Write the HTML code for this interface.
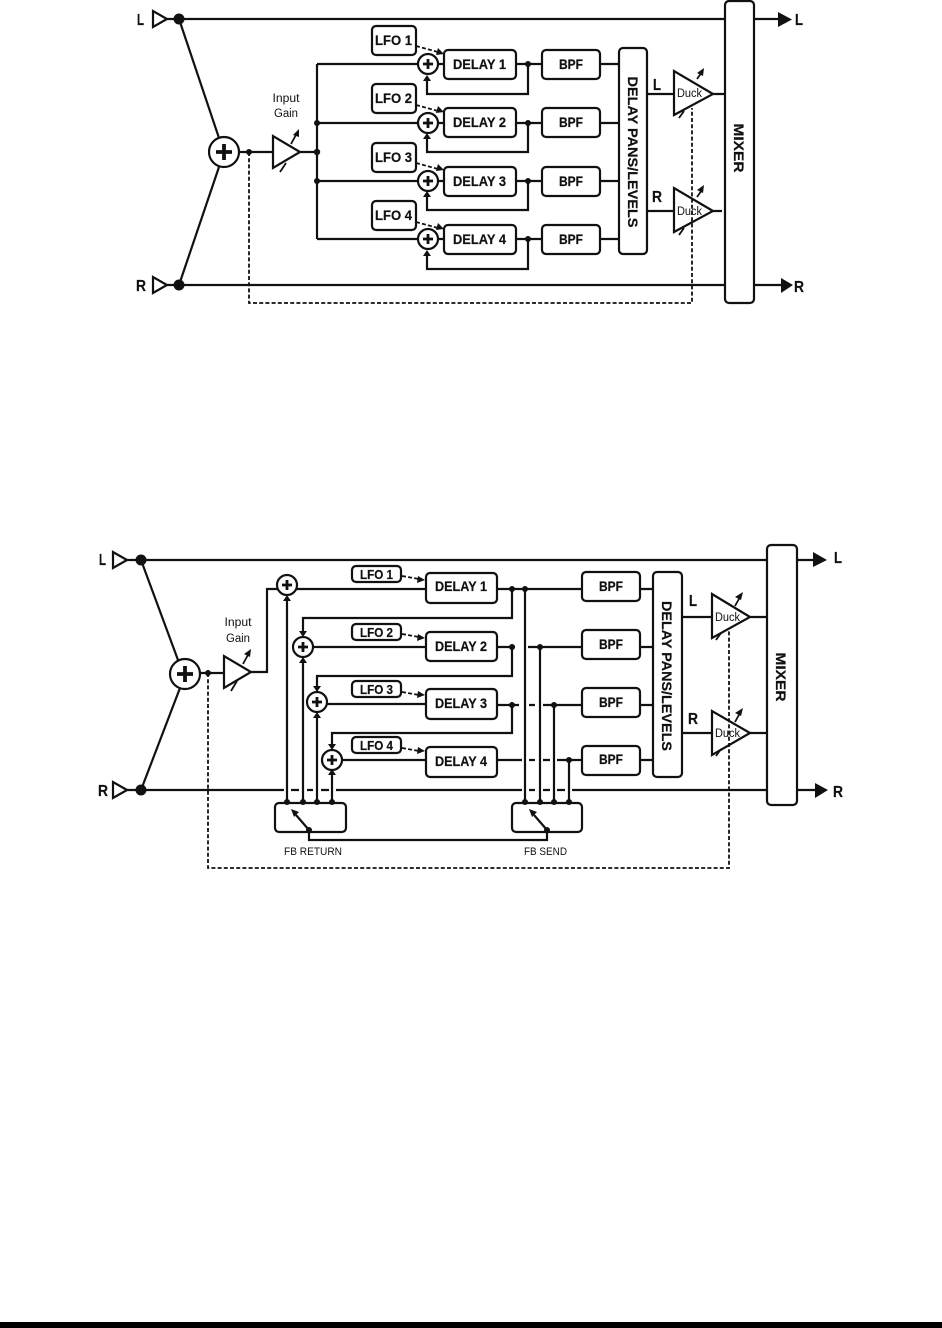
<!DOCTYPE html>
<html>
<head>
<meta charset="utf-8">
<style>
html,body{margin:0;padding:0;background:#fff;}
svg{display:block;}
text{font-family:"Liberation Sans",sans-serif;fill:#111;}
.b{font-weight:bold;stroke:#111;stroke-width:0.2;}
.l{fill:none;stroke:#111;stroke-width:2.2;}
.t{fill:none;stroke:#111;stroke-width:1.8;}
.d{fill:none;stroke:#111;stroke-width:1.8;stroke-dasharray:4 2.2;}
.box{fill:#fff;stroke:#111;stroke-width:2.2;}
.tri{fill:#fff;stroke:#111;stroke-width:2.2;stroke-linejoin:miter;}
.k{fill:#111;stroke:none;}
</style>
</head>
<body>
<svg width="942" height="1328" viewBox="0 0 942 1328" xmlns="http://www.w3.org/2000/svg">
<defs>
<g id="s"><circle r="10" fill="#fff" stroke="#111" stroke-width="2.2"/><path d="M-5 0H5M0-5V5" stroke="#111" stroke-width="2.8" fill="none"/></g>
<g id="S"><circle r="15" fill="#fff" stroke="#111" stroke-width="2.2"/><path d="M-8 0H8M0-8V8" stroke="#111" stroke-width="3.8" fill="none"/></g>
<polygon id="up" points="0,0 -4,6 4,6" fill="#111"/>
<polygon id="dn" points="0,0 -4,-6 4,-6" fill="#111"/>
</defs>

<!-- ===== TOP DIAGRAM ===== -->
<path class="l" d="M167 19H725M167 285H725M179 19L219 138M179 285L219 167M239 152H273M300 152H317M317 64V239M317 64H418M317 123H418M317 181H418M317 239H418"/>
<path class="l" d="M438 64H444M438 123H444M438 181H444M438 239H444M516 64H542M516 123H542M516 181H542M516 239H542M600 64H619M600 123H619M600 181H619M600 239H619"/>
<path class="l" d="M528 64V94H427V80M528 123V152H427V139M528 181V210H427V197M528 239V269H427V255"/>
<path class="l" d="M647 94H674M713 94H725M647 211H674M713 211H722M754 19H780M754 285H783"/>
<polygon class="tri" points="153,11 153,27 167,19"/>
<polygon class="tri" points="153,277 153,293 167,285"/>
<circle class="k" cx="179" cy="19" r="5.5"/>
<circle class="k" cx="179" cy="285" r="5.5"/>
<use href="#S" x="224" y="152"/>
<polygon class="tri" points="273,136 273,168 300,152"/>
<path class="t" d="M291 144L297 133M280 172L286 163"/>
<polygon class="k" points="299,129 299,137 293,135"/>
<circle class="k" cx="317" cy="123" r="3"/>
<circle class="k" cx="317" cy="152" r="3.2"/>
<circle class="k" cx="317" cy="181" r="3"/>
<text x="286" y="102" font-size="11.5" text-anchor="middle" textLength="27" lengthAdjust="spacingAndGlyphs">Input</text>
<text x="286" y="117" font-size="11.5" text-anchor="middle" textLength="24" lengthAdjust="spacingAndGlyphs">Gain</text>
<use href="#s" x="428" y="64"/><use href="#s" x="428" y="123"/><use href="#s" x="428" y="181"/><use href="#s" x="428" y="239"/>
<use href="#up" x="427" y="75"/><use href="#up" x="427" y="133"/><use href="#up" x="427" y="191"/><use href="#up" x="427" y="250"/>
<rect class="box" x="372" y="26" width="44" height="29" rx="4"/>
<rect class="box" x="372" y="84" width="44" height="29" rx="4"/>
<rect class="box" x="372" y="143" width="44" height="29" rx="4"/>
<rect class="box" x="372" y="201" width="44" height="29" rx="4"/>
<text class="b" x="375" y="45" font-size="14" textLength="37" lengthAdjust="spacingAndGlyphs">LFO 1</text>
<text class="b" x="375" y="103" font-size="14" textLength="37" lengthAdjust="spacingAndGlyphs">LFO 2</text>
<text class="b" x="375" y="162" font-size="14" textLength="37" lengthAdjust="spacingAndGlyphs">LFO 3</text>
<text class="b" x="375" y="220" font-size="14" textLength="37" lengthAdjust="spacingAndGlyphs">LFO 4</text>
<path class="d" d="M416 46L438 52M416 105L438 111M416 163L438 169M416 222L438 228"/>
<polygon class="k" points="444,54 436,55 438,48"/>
<polygon class="k" points="444,112 436,113 438,106"/>
<polygon class="k" points="444,170 436,171 438,164"/>
<polygon class="k" points="444,229 436,230 438,223"/>
<rect class="box" x="444" y="50" width="72" height="29" rx="4"/>
<rect class="box" x="444" y="108" width="72" height="29" rx="4"/>
<rect class="box" x="444" y="167" width="72" height="29" rx="4"/>
<rect class="box" x="444" y="225" width="72" height="29" rx="4"/>
<text class="b" x="453" y="69" font-size="14" textLength="53" lengthAdjust="spacingAndGlyphs">DELAY 1</text>
<text class="b" x="453" y="127" font-size="14" textLength="53" lengthAdjust="spacingAndGlyphs">DELAY 2</text>
<text class="b" x="453" y="186" font-size="14" textLength="53" lengthAdjust="spacingAndGlyphs">DELAY 3</text>
<text class="b" x="453" y="244" font-size="14" textLength="53" lengthAdjust="spacingAndGlyphs">DELAY 4</text>
<circle class="k" cx="528" cy="64" r="3"/><circle class="k" cx="528" cy="123" r="3"/><circle class="k" cx="528" cy="181" r="3"/><circle class="k" cx="528" cy="239" r="3"/>
<rect class="box" x="542" y="50" width="58" height="29" rx="4"/>
<rect class="box" x="542" y="108" width="58" height="29" rx="4"/>
<rect class="box" x="542" y="167" width="58" height="29" rx="4"/>
<rect class="box" x="542" y="225" width="58" height="29" rx="4"/>
<text class="b" x="559" y="69" font-size="14" textLength="24" lengthAdjust="spacingAndGlyphs">BPF</text>
<text class="b" x="559" y="127" font-size="14" textLength="24" lengthAdjust="spacingAndGlyphs">BPF</text>
<text class="b" x="559" y="186" font-size="14" textLength="24" lengthAdjust="spacingAndGlyphs">BPF</text>
<text class="b" x="559" y="244" font-size="14" textLength="24" lengthAdjust="spacingAndGlyphs">BPF</text>
<rect class="box" x="619" y="48" width="28" height="206" rx="4"/>
<text class="b" transform="translate(628 76.5) rotate(90)" font-size="14" textLength="151" lengthAdjust="spacingAndGlyphs">DELAY PANS/LEVELS</text>
<text class="b" x="653" y="90" font-size="16" textLength="8" lengthAdjust="spacingAndGlyphs">L</text>
<text class="b" x="652" y="202" font-size="16" textLength="10" lengthAdjust="spacingAndGlyphs">R</text>
<polygon class="tri" points="674,71 674,115 713,94"/>
<polygon class="tri" points="674,188 674,232 713,211"/>
<path class="d" d="M249 152V303H692V108"/>
<circle class="k" cx="249" cy="152" r="3"/>
<path class="t" d="M697 79L702 72M697 197L702 190M679 118L684 111M679 235L684 228"/>
<polygon class="k" points="704,68 703,76 697,73"/>
<polygon class="k" points="704,185 703,193 697,190"/>
<text x="677" y="97" font-size="11.5" textLength="25" lengthAdjust="spacingAndGlyphs">Duck</text>
<text x="677" y="215" font-size="11.5" textLength="25" lengthAdjust="spacingAndGlyphs">Duck</text>
<rect class="box" x="725" y="1" width="29" height="302" rx="4"/>
<text class="b" transform="translate(734 123.5) rotate(90)" font-size="14" textLength="49" lengthAdjust="spacingAndGlyphs">MIXER</text>
<polygon class="k" points="778,12 792,19.5 778,27"/>
<polygon class="k" points="781,278 793,285 781,293"/>
<text class="b" x="137" y="25" font-size="16" textLength="7" lengthAdjust="spacingAndGlyphs">L</text>
<text class="b" x="136" y="291" font-size="16" textLength="10" lengthAdjust="spacingAndGlyphs">R</text>
<text class="b" x="795" y="25" font-size="16" textLength="8" lengthAdjust="spacingAndGlyphs">L</text>
<text class="b" x="794" y="292" font-size="16" textLength="10" lengthAdjust="spacingAndGlyphs">R</text>

<!-- ===== BOTTOM DIAGRAM ===== -->
<path class="l" d="M127 560H767M127 790H284M291 790H299M307 790H313M321 790H329M336 790H522M529 790H535M543 790H550M557 790H565M572 790H767"/>
<path class="l" d="M141 560L178 660M141 790L180 688M200 673H224M251 672H267V589H425M310 647H425M324 704H425M342 760H425"/>
<path class="l" d="M287 802V601M303 802V663M317 802V718M332 802V775"/>
<path class="l" d="M497 589H582M497 647H515M528 647H582M497 705H519M529 705H535M543 705H582M497 760H522M529 760H535M543 760H550M557 760H582"/>
<path class="l" d="M512 589V618H303V631M512 647V676H317V686M512 705V733H332V744"/>
<path class="l" d="M525 589V802M540 647V802M554 705V802M569 760V802"/>
<path class="l" d="M640 589H653M640 647H653M640 705H653M640 760H653M682 617H712M682 733H712M750 617H767M750 733H767M797 560H815M797 790H817"/>
<polygon class="tri" points="113,552 113,568 127,560"/>
<polygon class="tri" points="113,782 113,798 127,790"/>
<circle class="k" cx="141" cy="560" r="5.5"/>
<circle class="k" cx="141" cy="790" r="5.5"/>
<use href="#S" x="185" y="674"/>
<polygon class="tri" points="224,656 224,688 251,672"/>
<path class="t" d="M243 664L249 653M231 691L237 681"/>
<polygon class="k" points="251,649 250,657 244,654"/>
<text x="238" y="626" font-size="11.5" text-anchor="middle" textLength="27" lengthAdjust="spacingAndGlyphs">Input</text>
<text x="238" y="642" font-size="11.5" text-anchor="middle" textLength="24" lengthAdjust="spacingAndGlyphs">Gain</text>
<use href="#s" x="287" y="585"/><use href="#s" x="303" y="647"/><use href="#s" x="317" y="702"/><use href="#s" x="332" y="760"/>
<use href="#up" x="287" y="595"/><use href="#up" x="303" y="657"/><use href="#up" x="317" y="712"/><use href="#up" x="332" y="769"/>
<use href="#dn" x="303" y="637"/><use href="#dn" x="317" y="692"/><use href="#dn" x="332" y="750"/>
<rect class="box" x="352" y="566" width="49" height="16" rx="4"/>
<rect class="box" x="352" y="624" width="49" height="16" rx="4"/>
<rect class="box" x="352" y="681" width="49" height="16" rx="4"/>
<rect class="box" x="352" y="737" width="49" height="16" rx="4"/>
<text class="b" x="360" y="579" font-size="12.5" textLength="33" lengthAdjust="spacingAndGlyphs">LFO 1</text>
<text class="b" x="360" y="637" font-size="12.5" textLength="33" lengthAdjust="spacingAndGlyphs">LFO 2</text>
<text class="b" x="360" y="694" font-size="12.5" textLength="33" lengthAdjust="spacingAndGlyphs">LFO 3</text>
<text class="b" x="360" y="750" font-size="12.5" textLength="33" lengthAdjust="spacingAndGlyphs">LFO 4</text>
<path class="d" d="M402 576L419 579M402 634L419 637M402 692L419 695M402 748L419 751"/>
<polygon class="k" points="425,580 417,583 418,576"/>
<polygon class="k" points="425,638 417,641 418,634"/>
<polygon class="k" points="425,695 417,698 418,691"/>
<polygon class="k" points="425,751 417,754 418,747"/>
<rect class="box" x="426" y="573" width="71" height="30" rx="4"/>
<rect class="box" x="426" y="632" width="71" height="29" rx="4"/>
<rect class="box" x="426" y="689" width="71" height="30" rx="4"/>
<rect class="box" x="426" y="747" width="71" height="30" rx="4"/>
<text class="b" x="435" y="591" font-size="14" textLength="52" lengthAdjust="spacingAndGlyphs">DELAY 1</text>
<text class="b" x="435" y="651" font-size="14" textLength="52" lengthAdjust="spacingAndGlyphs">DELAY 2</text>
<text class="b" x="435" y="708" font-size="14" textLength="52" lengthAdjust="spacingAndGlyphs">DELAY 3</text>
<text class="b" x="435" y="766" font-size="14" textLength="52" lengthAdjust="spacingAndGlyphs">DELAY 4</text>
<circle class="k" cx="512" cy="589" r="3"/><circle class="k" cx="512" cy="647" r="3"/><circle class="k" cx="512" cy="705" r="3"/>
<circle class="k" cx="525" cy="589" r="3"/><circle class="k" cx="540" cy="647" r="3"/><circle class="k" cx="554" cy="705" r="3"/><circle class="k" cx="569" cy="760" r="3"/>
<rect class="box" x="582" y="572" width="58" height="29" rx="4"/>
<rect class="box" x="582" y="630" width="58" height="29" rx="4"/>
<rect class="box" x="582" y="688" width="58" height="29" rx="4"/>
<rect class="box" x="582" y="746" width="58" height="29" rx="4"/>
<text class="b" x="599" y="591" font-size="14" textLength="24" lengthAdjust="spacingAndGlyphs">BPF</text>
<text class="b" x="599" y="649" font-size="14" textLength="24" lengthAdjust="spacingAndGlyphs">BPF</text>
<text class="b" x="599" y="707" font-size="14" textLength="24" lengthAdjust="spacingAndGlyphs">BPF</text>
<text class="b" x="599" y="764" font-size="14" textLength="24" lengthAdjust="spacingAndGlyphs">BPF</text>
<rect class="box" x="653" y="572" width="29" height="205" rx="4"/>
<text class="b" transform="translate(662 601) rotate(90)" font-size="14" textLength="150" lengthAdjust="spacingAndGlyphs">DELAY PANS/LEVELS</text>
<text class="b" x="689" y="606" font-size="16" textLength="8" lengthAdjust="spacingAndGlyphs">L</text>
<text class="b" x="688" y="724" font-size="16" textLength="10" lengthAdjust="spacingAndGlyphs">R</text>
<polygon class="tri" points="712,594 712,638 750,617"/>
<polygon class="tri" points="712,711 712,755 750,733"/>
<path class="d" d="M208 673V868H729V630"/>
<circle class="k" cx="208" cy="673" r="3"/>
<path class="t" d="M735 606L740 597M735 722L740 713M716 640L721 633M716 756L721 749"/>
<polygon class="k" points="743,592 741,600 735,597"/>
<polygon class="k" points="743,708 741,716 735,713"/>
<text x="715" y="621" font-size="11.5" textLength="25" lengthAdjust="spacingAndGlyphs">Duck</text>
<text x="715" y="737" font-size="11.5" textLength="25" lengthAdjust="spacingAndGlyphs">Duck</text>
<rect class="box" x="767" y="545" width="30" height="260" rx="4"/>
<text class="b" transform="translate(776 652.5) rotate(90)" font-size="14" textLength="49" lengthAdjust="spacingAndGlyphs">MIXER</text>
<polygon class="k" points="813,552 827,560 813,567"/>
<polygon class="k" points="815,783 828,790 815,798"/>
<text class="b" x="99" y="565" font-size="16" textLength="7" lengthAdjust="spacingAndGlyphs">L</text>
<text class="b" x="98" y="796" font-size="16" textLength="10" lengthAdjust="spacingAndGlyphs">R</text>
<text class="b" x="834" y="563" font-size="16" textLength="8" lengthAdjust="spacingAndGlyphs">L</text>
<text class="b" x="833" y="797" font-size="16" textLength="10" lengthAdjust="spacingAndGlyphs">R</text>
<rect class="box" x="275" y="803" width="71" height="29" rx="4"/>
<rect class="box" x="512" y="803" width="70" height="29" rx="4"/>
<circle class="k" cx="287" cy="802" r="3"/><circle class="k" cx="303" cy="802" r="3"/><circle class="k" cx="317" cy="802" r="3"/><circle class="k" cx="332" cy="802" r="3"/>
<circle class="k" cx="525" cy="802" r="3"/><circle class="k" cx="540" cy="802" r="3"/><circle class="k" cx="554" cy="802" r="3"/><circle class="k" cx="569" cy="802" r="3"/>
<path class="l" d="M309 830L296 815M547 830L534 815M309 830V840H547V830"/>
<polygon class="k" points="291,809 299,812 294,817"/>
<polygon class="k" points="529,809 537,812 532,817"/>
<circle class="k" cx="309" cy="830" r="3"/><circle class="k" cx="547" cy="830" r="3"/>
<text x="284" y="855" font-size="11" textLength="58" lengthAdjust="spacingAndGlyphs">FB RETURN</text>
<text x="524" y="855" font-size="11" textLength="43" lengthAdjust="spacingAndGlyphs">FB SEND</text>

<rect x="0" y="1322" width="942" height="6" fill="#000"/>
</svg>
</body>
</html>
